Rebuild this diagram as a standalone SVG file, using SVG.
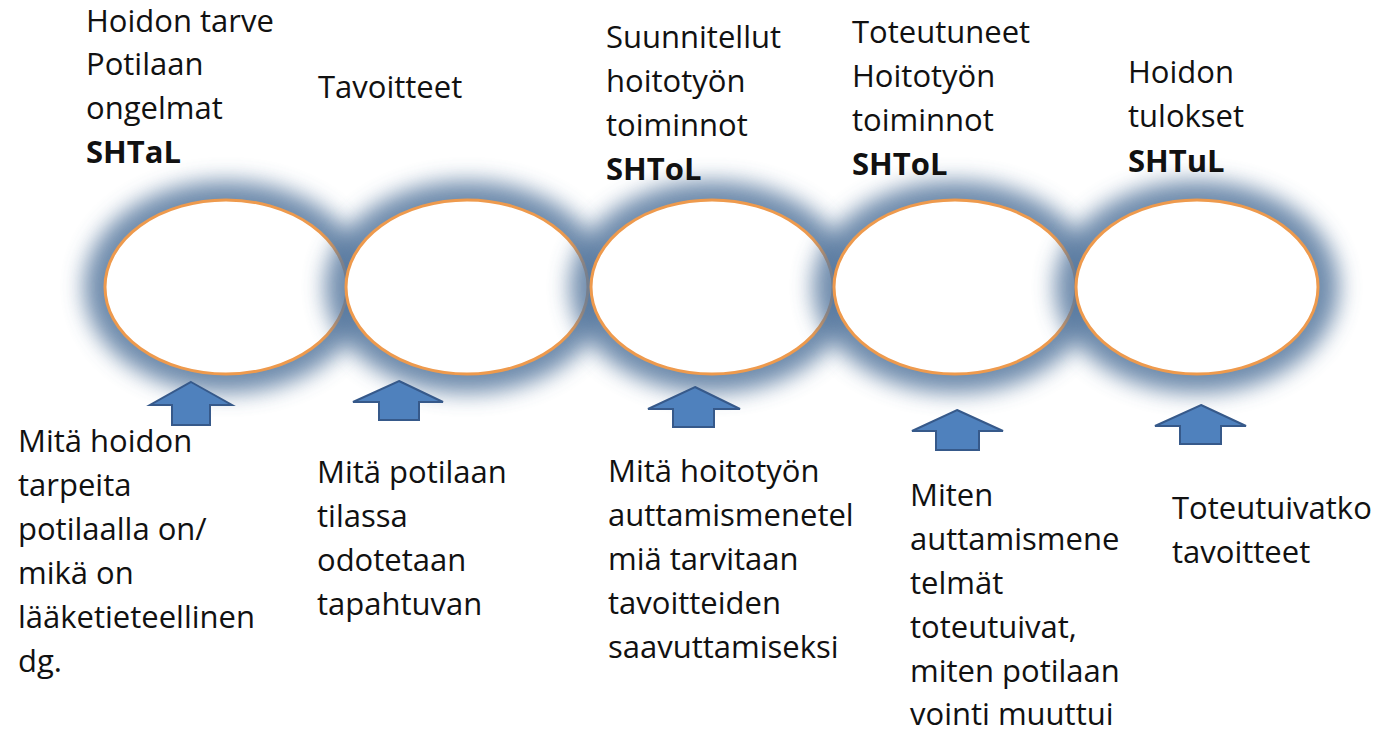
<svg xmlns="http://www.w3.org/2000/svg" width="1387" height="734" viewBox="0 0 1387 734">
<defs>
<style>
.t{font-family:"Open Sans","Liberation Sans",sans-serif;font-size:31px;fill:#111;}
.b{font-weight:bold;}
.halo{fill:#56789f;filter:url(#blur);opacity:0.85;}
.ell{fill:#fff;stroke:#ee9a4d;stroke-width:3;}
.arr{fill:#4f81bd;stroke:#36598a;stroke-width:2;stroke-linejoin:miter;}
</style>
<filter id="blur" x="-40%" y="-50%" width="180%" height="200%">
<feGaussianBlur stdDeviation="11"/>
</filter>
</defs>
<rect width="1387" height="734" fill="#fff"/>

<g id="node1">
<ellipse class="halo" cx="226" cy="287" rx="142" ry="106"/>
<ellipse class="ell" cx="226" cy="287" rx="121" ry="87"/>
<text class="t" x="86" y="32">Hoidon tarve</text>
<text class="t" x="86" y="75">Potilaan</text>
<text class="t" x="86" y="119">ongelmat</text>
<text class="t b" x="86" y="163">SHTaL</text>
<text class="t" x="18" y="452">Mitä hoidon</text>
<text class="t" x="18" y="496">tarpeita</text>
<text class="t" x="18" y="540">potilaalla on/</text>
<text class="t" x="18" y="584">mikä on</text>
<text class="t" x="18" y="628">lääketieteellinen</text>
<text class="t" x="18" y="672">dg.</text>
</g>

<g id="node2">
<ellipse class="halo" cx="467" cy="287" rx="142" ry="106"/>
<ellipse class="ell" cx="467" cy="287" rx="121" ry="87"/>
<text class="t" x="318" y="98">Tavoitteet</text>
<text class="t" x="317" y="483">Mitä potilaan</text>
<text class="t" x="317" y="527">tilassa</text>
<text class="t" x="317" y="571">odotetaan</text>
<text class="t" x="317" y="615">tapahtuvan</text>
</g>

<g id="node3">
<ellipse class="halo" cx="712" cy="287" rx="142" ry="106"/>
<ellipse class="ell" cx="712" cy="287" rx="121" ry="87"/>
<text class="t" x="606" y="48">Suunnitellut</text>
<text class="t" x="606" y="92">hoitotyön</text>
<text class="t" x="606" y="136">toiminnot</text>
<text class="t b" x="606" y="180">SHToL</text>
<text class="t" x="608" y="482">Mitä hoitotyön</text>
<text class="t" x="608" y="526">auttamismenetel</text>
<text class="t" x="608" y="570">miä tarvitaan</text>
<text class="t" x="608" y="614">tavoitteiden</text>
<text class="t" x="608" y="658">saavuttamiseksi</text>
</g>

<g id="node4">
<ellipse class="halo" cx="955" cy="287" rx="142" ry="106"/>
<ellipse class="ell" cx="955" cy="287" rx="121" ry="87"/>
<text class="t" x="852" y="43">Toteutuneet</text>
<text class="t" x="852" y="87">Hoitotyön</text>
<text class="t" x="852" y="131">toiminnot</text>
<text class="t b" x="852" y="175">SHToL</text>
<text class="t" x="910" y="506">Miten</text>
<text class="t" x="910" y="550">auttamismene</text>
<text class="t" x="910" y="594">telmät</text>
<text class="t" x="910" y="638">toteutuivat,</text>
<text class="t" x="910" y="682">miten potilaan</text>
<text class="t" x="910" y="725">vointi muuttui</text>
</g>

<g id="node5">
<ellipse class="halo" cx="1197" cy="287" rx="142" ry="106"/>
<ellipse class="ell" cx="1197" cy="287" rx="121" ry="87"/>
<text class="t" x="1128" y="83">Hoidon</text>
<text class="t" x="1128" y="127">tulokset</text>
<text class="t b" x="1128" y="172">SHTuL</text>
<text class="t" x="1172" y="519">Toteutuivatko</text>
<text class="t" x="1172" y="563">tavoitteet</text>
</g>

<g id="connectors">
<polygon class="arr" points="191,382 232,405 210,405 210,425 172,425 172,405 150,405"/>
<polygon class="arr" points="399,381 443,402 419,402 419,420 379,420 379,402 353,402"/>
<polygon class="arr" points="695,387 740,409 714,409 714,427 673,427 673,409 648,409"/>
<polygon class="arr" points="957,410 1003,431 979,431 979,450 936,450 936,431 912,431"/>
<polygon class="arr" points="1201,405 1246,426 1221,426 1221,444 1180,444 1180,426 1155,426"/>
</g>
</svg>
